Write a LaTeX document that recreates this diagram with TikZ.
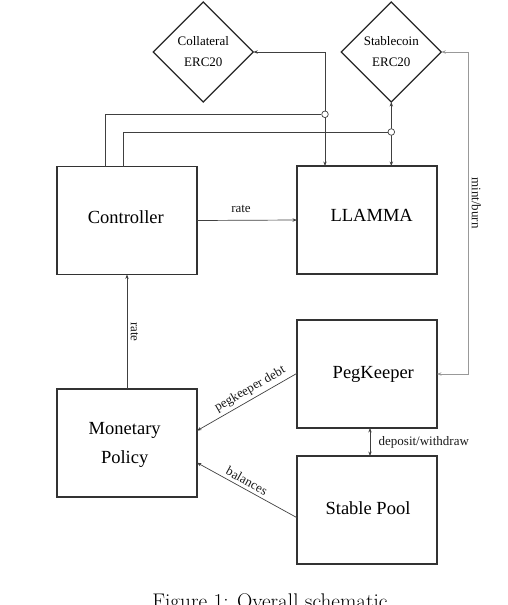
\documentclass[tikz,border=0pt]{standalone}
\usepackage{fontspec}
\newfontfamily\tnr{Liberation Serif}
\usetikzlibrary{arrows.meta,shapes.geometric}
\begin{document}
\begin{tikzpicture}[x=1pt,y=-1pt,
  >={Stealth[length=4.5pt,width=3.4pt]},
  box/.style={draw=black!80,line width=1.3pt,minimum width=140pt,minimum height=108pt,inner sep=0pt,outer sep=0pt},
  btxt/.style={font=\tnr\fontsize{18.5}{28.3}\selectfont,align=center,inner sep=0pt},
  dia/.style={draw=black!85,line width=1.2pt,diamond,aspect=1,minimum width=100pt,minimum height=100pt,inner sep=0pt,outer sep=0pt,align=center,font=\tnr\fontsize{13}{21}\selectfont},
  conn/.style={draw=black!75,line width=0.7pt},
  greyconn/.style={draw=black!40,line width=0.9pt},
  lbl/.style={font=\tnr\fontsize{13}{15}\selectfont,text=black!90},
  hop/.style={circle,draw=black!75,line width=0.7pt,fill=white,minimum size=6.6pt,inner sep=0pt},
]
\useasboundingbox (0,0) rectangle (508,605);

% tokens
\node[dia] (col) at (203.3,52) {Collateral\\ERC20};
\node[dia] (stb) at (391.3,52) {Stablecoin\\ERC20};

% boxes
\node[box,label={[btxt,xshift=-1.2pt,yshift=2.9pt]center:Controller}] (ctl) at (127,220.5) {};
\node[box,label={[btxt,xshift=4.7pt,yshift=4.4pt]center:LLAMMA}] (lla) at (367,220) {};
\node[box,label={[btxt,xshift=6.3pt,yshift=0pt]center:PegKeeper}] (peg) at (367,374) {};
\node[box,label={[btxt,xshift=1pt,yshift=1.4pt]center:Stable Pool}] (stp) at (367,510) {};
\node[box,label={[btxt,xshift=-2.3pt,yshift=-1.85pt]center:{Monetary\\Policy}}] (mon) at (127,443) {};

% token links
\draw[conn,<->] (col.east) -| ([xshift=-42pt]lla.north);
\draw[conn,<->,line width=0.9pt] (stb.south) -- (stb.south |- lla.north);
\node[hop] (h1) at (325,114.3) {};
\node[hop] (h2) at (391.3,132) {};
\draw[conn] ([xshift=-22pt]ctl.north) |- (h1.west);
\draw[conn] ([xshift=-3.7pt]ctl.north) |- (h2.west);

% rates
\draw[conn,->] (ctl.east) -- node[lbl,above=3.5pt,pos=0.44] (r1) {rate} (lla.west);
\draw[conn,->] (mon.north) -- node[lbl,rotate=-90,anchor=south,midway] (r2) {rate} (ctl.south);

% mint/burn
\draw[greyconn,<->] (stb.east) -- ++(27,0) coordinate (mb) |- (peg.east);
\coordinate (mbm) at (468.3,203);
\node[lbl,rotate=-90,anchor=south] (mbl) at (mbm) {mint/burn};

% pegkeeper / pool
\draw[conn,->] ([yshift=0.7pt]peg.west) -- node[lbl,sloped,above,pos=0.42] (pd) {pegkeeper debt} ([yshift=12.3pt]mon.east);
\draw[conn,->] ([yshift=-7.7pt]stp.west) -- node[lbl,sloped,above,pos=0.54] (bl) {balances} ([yshift=-19.7pt]mon.east);
\draw[conn,<->] ([xshift=3pt]peg.south) -- node[lbl,right=5pt,midway] (dw) {deposit/withdraw} ([xshift=3pt]stp.north);

% caption
\node[anchor=base,inner sep=0pt,font=\fontsize{21.2}{25}\selectfont] (cap) at (270,608.5) {Figure 1: Overall schematic};
\end{tikzpicture}
\end{document}
